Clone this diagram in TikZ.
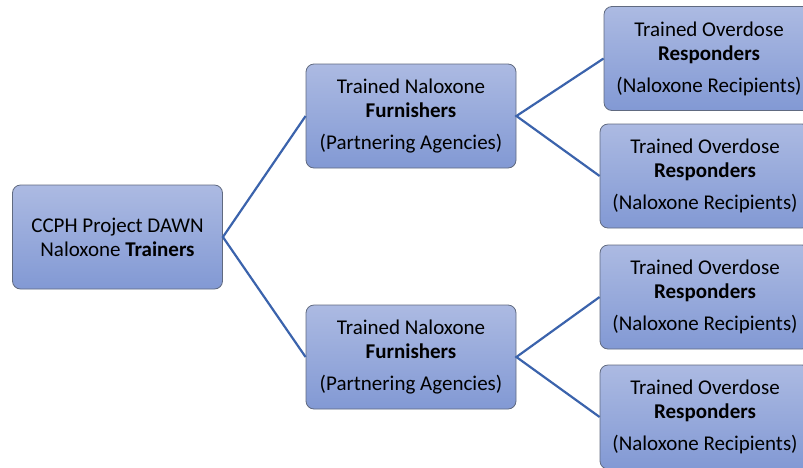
\documentclass[tikz,border=0pt]{standalone}
\usepackage{fontspec}
\setmainfont{Carlito}
\usepackage{tikz}
\usetikzlibrary{calc}
\definecolor{boxtop}{RGB}{172,186,226}
\definecolor{boxbottom}{RGB}{130,153,212}
\definecolor{boxedge}{RGB}{96,106,128}
\definecolor{linkblue}{RGB}{59,99,172}

\tikzset{
  levelbox/.style={draw=boxedge, thin, rounded corners=4pt, top color=boxtop,
    bottom color=boxbottom, minimum width=105pt, minimum height=52pt,
    inner sep=0pt, align=center, font=\fontsize{10.5}{12}\selectfont},
  link/.style={linkblue, line width=1.1pt}
}

\begin{document}
\begin{tikzpicture}[x=0.5pt,y=-0.5pt]

  \useasboundingbox (0,0) rectangle (803,467);

  % Trainers
  \node[levelbox] (trainers) at (117.5,237) {CCPH Project DAWN\\Naloxone \textbf{Trainers}};

  % Furnishers
  \node[levelbox] (furnA) at (411,116) {Trained Naloxone\\\textbf{Furnishers}\\[4pt](Partnering Agencies)};
  \node[levelbox] (furnB) at (411,357) {Trained Naloxone\\\textbf{Furnishers}\\[4pt](Partnering Agencies)};

  % Responders
  \node[levelbox] (respA) at (709,58.5) {Trained Overdose\\\textbf{Responders}\\[4pt](Naloxone Recipients)};
  \node[levelbox] (respB) at (705,176) {Trained Overdose\\\textbf{Responders}\\[4pt](Naloxone Recipients)};
  \node[levelbox] (respC) at (705,297) {Trained Overdose\\\textbf{Responders}\\[4pt](Naloxone Recipients)};
  \node[levelbox] (respD) at (705,417) {Trained Overdose\\\textbf{Responders}\\[4pt](Naloxone Recipients)};

  % Links
  \draw[link] (furnA.west) -- (trainers.east) -- (furnB.west);
  \draw[link] (respA.west) -- (furnA.east) -- (respB.west);
  \draw[link] (respC.west) -- (furnB.east) -- (respD.west);

\end{tikzpicture}
\end{document}
